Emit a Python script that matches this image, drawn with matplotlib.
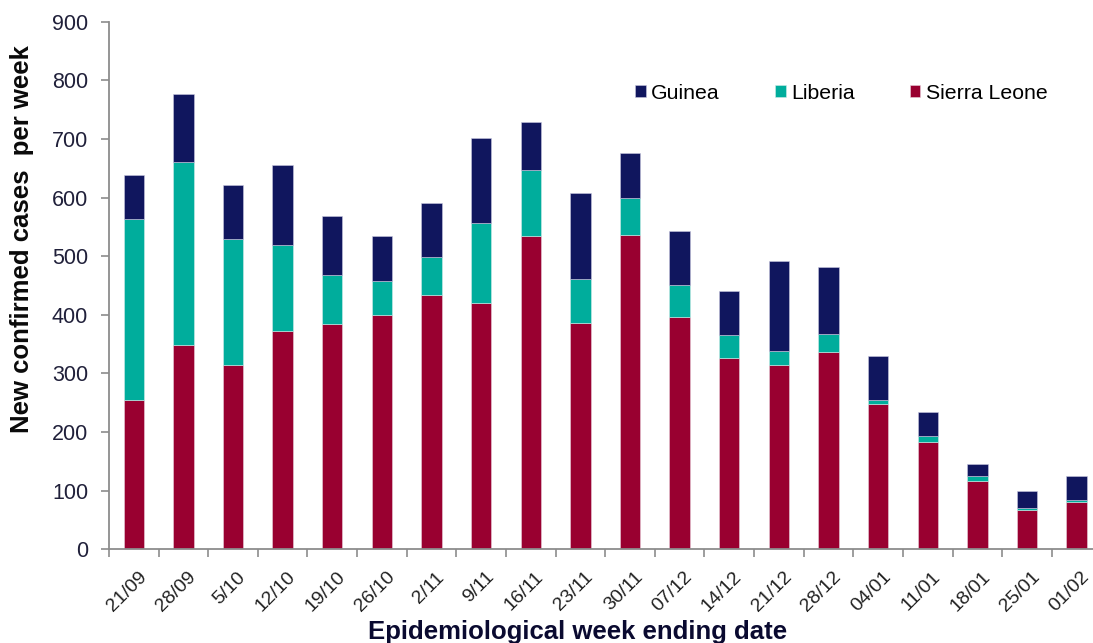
import matplotlib.pyplot as plt
import numpy as np

plt.rcParams['font.family'] = ['Liberation Sans', 'DejaVu Sans']

weeks = ['21/09', '28/09', '5/10', '12/10', '19/10', '26/10', '2/11', '9/11', '16/11', '23/11',
         '30/11', '07/12', '14/12', '21/12', '28/12', '04/01', '11/01', '18/01', '25/01', '01/02']
sierra_leone = [255, 348, 314, 372, 385, 400, 434, 420, 534, 386,
                537, 396, 327, 314, 337, 247, 182, 117, 66, 80]
liberia = [309, 312, 216, 147, 83, 58, 65, 137, 113, 75,
           62, 55, 38, 24, 31, 8, 11, 7, 4, 4]
guinea = [75, 117, 92, 137, 100, 76, 92, 144, 82, 147,
          78, 92, 76, 154, 114, 75, 41, 21, 30, 40]

c_sl = '#990030'
c_lib = '#00ad9c'
c_gui = '#10165e'

fig = plt.figure(figsize=(10.93, 6.43), dpi=100)
ax = fig.add_axes([0.0997, 0.146, 0.908, 0.82])

x = np.arange(len(weeks))
sl = np.array(sierra_leone)
lib = np.array(liberia)
gui = np.array(guinea)
w = 0.41
b1 = ax.bar(x, sl, w, color=c_sl, edgecolor='#e8d0dc', linewidth=0.4, label='Sierra Leone')
b2 = ax.bar(x, lib, w, bottom=sl, color=c_lib, edgecolor='#d0ece8', linewidth=0.4, label='Liberia')
b3 = ax.bar(x, gui, w, bottom=sl + lib, color=c_gui, edgecolor='#c8c8e0', linewidth=0.4, label='Guinea')

ax.set_xlim(-0.5, len(weeks) - 0.5)
ax.set_ylim(0, 900)
ax.set_yticks(range(0, 901, 100))

# ticks sit between the categories, labels under the bars
ax.set_xticks(np.arange(-0.5, len(weeks), 1.0))
ax.set_xticklabels([])
ax.tick_params(axis='x', length=6, width=1.2, color='#8c8c8c', direction='out')
ax.tick_params(axis='y', length=6, width=1.2, color='#8c8c8c', direction='out',
               labelsize=15.5, labelcolor='#20203a', pad=9)
for i, lab in enumerate(weeks):
    ax.annotate(lab, xy=(i, 0), xycoords=('data', 'axes fraction'),
                xytext=(3, -14), textcoords='offset points',
                rotation=45, ha='right', va='top', rotation_mode='anchor',
                fontsize=14, color='#222222')

for s in ['top', 'right']:
    ax.spines[s].set_visible(False)
for s in ['left', 'bottom']:
    ax.spines[s].set_color('#8c8c8c')
    ax.spines[s].set_linewidth(1.3)

fig.text(22 / 1093, 1 - 239 / 643, 'New confirmed cases  per week', rotation=90,
         ha='center', va='center', fontsize=18.5, fontweight='bold', color='#0a0a0a')
fig.text(0.528, 4 / 643, 'Epidemiological week ending date', ha='center', va='baseline',
         fontsize=18.5, fontweight='bold', color='#0a0a30')

ax.legend([b3, b2, b1], ['Guinea', 'Liberia', 'Sierra Leone'], ncol=3, frameon=False,
          loc='center left', bbox_to_anchor=(0.511, 0.865), fontsize=15.3,
          handlelength=0.5, handleheight=0.55, handletextpad=0.25, columnspacing=2.6)

fig.savefig('out.png', dpi=100)
